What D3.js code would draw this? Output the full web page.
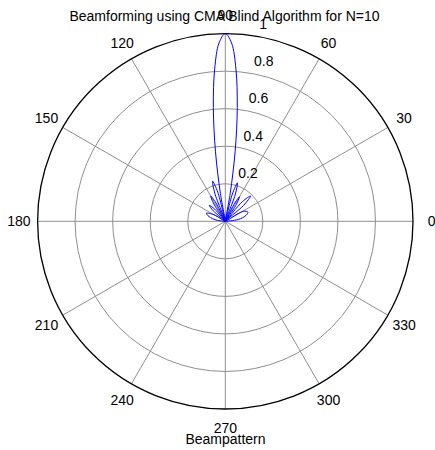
<!DOCTYPE html>
<html>
<head>
<meta charset="utf-8">
<script src="https://cdn.jsdelivr.net/npm/d3@7"></script>
<style>
  body { margin: 0; background: #fff; }
  text { font-family: "Liberation Sans", Arial, sans-serif; font-size: 14px; fill: #000; }
</style>
</head>
<body>
<div id="chart"></div>
<script>
// Beam pattern: angle in degrees, normalised magnitude
const patternAngles = [
  0, 8, 16, 22, 29, 36.9,
  41, 45, 49, 53.1,
  56.5, 60, 63, 66.4,
  69.5, 72.5, 75.5, 78.5,
  80, 82, 84, 86, 88, 90, 92, 94, 96, 98, 100, 101.5,
  104.5, 107.5, 110.5, 113.6,
  117, 120, 123.5, 126.9,
  131, 135, 139, 143.1,
  150, 157, 164, 172, 180
];
const patternValues = [
  0, 0.07, 0.115, 0.13, 0.11, 0,
  0.13, 0.19, 0.14, 0,
  0.10, 0.15, 0.10, 0,
  0.15, 0.215, 0.15, 0,
  0.15, 0.377, 0.61, 0.813, 0.951, 1, 0.951, 0.813, 0.61, 0.377, 0.15, 0,
  0.16, 0.225, 0.16, 0,
  0.11, 0.155, 0.11, 0,
  0.085, 0.12, 0.085, 0,
  0.07, 0.11, 0.09, 0.05, 0
];
const ringTicks = [0.2, 0.4, 0.6, 0.8, 1];
const spokeAngles = [0, 30, 60, 90, 120, 150, 180, 210, 240, 270, 300, 330];

const titleText = "Beamforming using CMA Blind Algorithm for N=10";
const xLabelText = "Beampattern";

const width = 435, height = 450;
const cx = 225.3, cy = 221.3, R = 187.7;

const svg = d3.select("#chart").append("svg")
  .attr("width", width)
  .attr("height", height);

const g = svg.append("g").attr("transform", `translate(${cx},${cy})`);

const r = d3.scaleLinear().domain([0, 1]).range([0, R]);
const rad = d => d * Math.PI / 180;

// inner rings
g.selectAll(".ring")
  .data(ringTicks.slice(0, -1))
  .enter().append("circle")
  .attr("r", d => r(d))
  .attr("fill", "none")
  .attr("stroke", "#8f8f8f")
  .attr("stroke-width", 1);

// spokes through centre
g.selectAll(".spoke")
  .data(spokeAngles.slice(0, 6))
  .enter().append("line")
  .attr("x1", d => r(1) * Math.cos(rad(d)))
  .attr("y1", d => -r(1) * Math.sin(rad(d)))
  .attr("x2", d => -r(1) * Math.cos(rad(d)))
  .attr("y2", d => r(1) * Math.sin(rad(d)))
  .attr("stroke", "#8f8f8f")
  .attr("stroke-width", 1);

// outer ring
g.append("circle")
  .attr("r", r(1))
  .attr("fill", "none")
  .attr("stroke", "#000")
  .attr("stroke-width", 1.3);

// ring labels at 82 degrees, left aligned with leading spaces
const c82 = Math.cos(rad(82)), s82 = Math.sin(rad(82));
g.selectAll(".rlabel")
  .data(ringTicks)
  .enter().append("text")
  .attr("x", d => r(d + 0.01) * c82 + 7.5)
  .attr("y", d => -r(d + 0.01) * s82 - 4.5)
  .text(d => d);

// angle labels
g.selectAll(".alabel")
  .data(spokeAngles)
  .enter().append("text")
  .attr("text-anchor", "middle")
  .attr("x", d => r(1.1) * Math.cos(rad(d)))
  .attr("y", d => -r(1.1) * Math.sin(rad(d)) + 5)
  .text(d => d);

// pattern
const patternData = patternAngles.map((a, i) => [a, patternValues[i]]);
const line = d3.lineRadial()
  .angle(d => Math.PI / 2 - rad(d[0]))
  .radius(d => r(d[1]))
  .curve(d3.curveCatmullRom.alpha(0.5));

g.append("path")
  .datum(patternData)
  .attr("d", line)
  .attr("fill", "none")
  .attr("stroke", "#0000ff")
  .attr("stroke-width", 1);

// title and x label
svg.append("text")
  .attr("x", 224.5)
  .attr("y", 21)
  .attr("text-anchor", "middle")
  .text(titleText);

svg.append("text")
  .attr("x", 225.5)
  .attr("y", 443.5)
  .attr("text-anchor", "middle")
  .text(xLabelText);
</script>
</body>
</html>
